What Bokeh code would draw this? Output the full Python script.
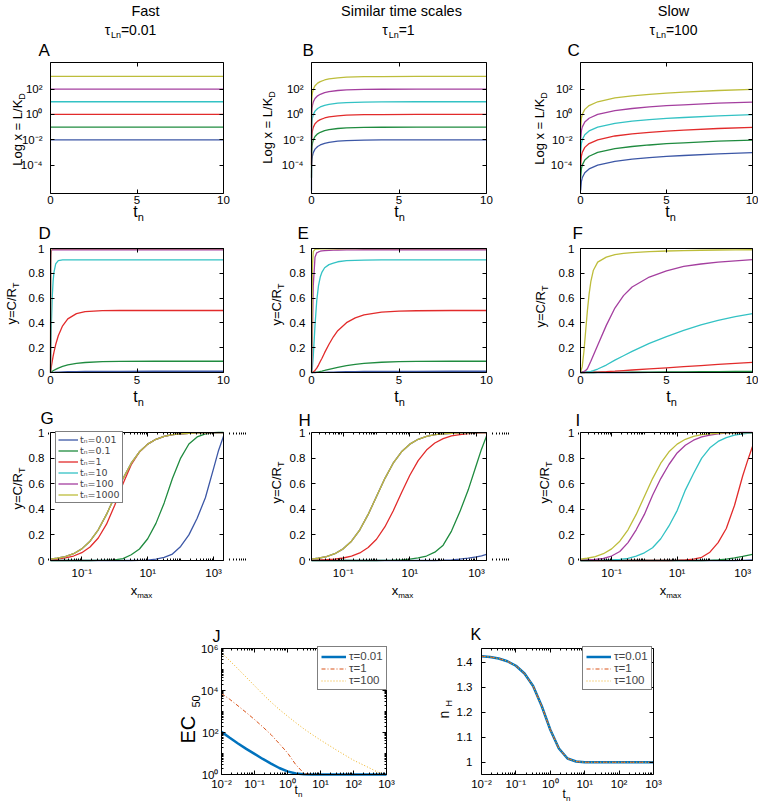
import numpy as np
from bokeh.plotting import figure
from bokeh.models import (Range1d, FixedTicker, LinearAxis, LogAxis, Label,
                          Legend, LegendItem, CustomJSTickFormatter)
from bokeh.layouts import row, column
from bokeh.embed import file_html
from bokeh.resources import INLINE

FONT = "Liberation Sans"

# ------------------------------------------------------------------ data
SERIES_COLORS = ["#3c57a6", "#1f8b3f", "#e22b2b", "#33c2c4", "#a43f9f", "#bdbd3b"]
SERIES_LABELS = ["t\u2099=0.01", "t\u2099=0.1", "t\u2099=1", "t\u2099=10", "t\u2099=100", "t\u2099=1000"]
TAU_LABELS = ["\u03c4=0.01", "\u03c4=1", "\u03c4=100"]
TAU_COLORS = ["#0072bd", "#d95319", "#edb120"]

# Panel A (fast): x stays at its level
A_T = [0, 10]
A_LEVELS = [0.01, 0.1, 1, 10, 100, 1000]

# Panel B (tau=1): log10 x vs t
B_T = [0.0001, 0.001, 0.01, 0.03, 0.06, 0.1, 0.2, 0.35, 0.5, 0.75, 1, 1.5, 2, 3, 4, 6, 10]
B_LOGX = [
    [-6.0, -5.0, -4.0, -3.53, -3.24, -3.02, -2.74, -2.53, -2.41, -2.28, -2.20, -2.11, -2.06, -2.02, -2.01, -2.00, -2.00],
    [-5.0, -4.0, -3.0, -2.53, -2.24, -2.02, -1.74, -1.53, -1.41, -1.28, -1.20, -1.11, -1.06, -1.02, -1.01, -1.00, -1.00],
    [-4.0, -3.0, -2.0, -1.53, -1.24, -1.02, -0.74, -0.53, -0.41, -0.28, -0.20, -0.11, -0.06, -0.02, -0.01, 0.00, 0.00],
    [-3.0, -2.0, -1.0, -0.53, -0.24, -0.02, 0.26, 0.47, 0.59, 0.72, 0.80, 0.89, 0.94, 0.98, 0.99, 1.00, 1.00],
    [-2.0, -1.0, 0.0, 0.47, 0.76, 0.98, 1.26, 1.47, 1.59, 1.72, 1.80, 1.89, 1.94, 1.98, 1.99, 2.00, 2.00],
    [-1.0, 0.0, 1.0, 1.47, 1.76, 1.98, 2.26, 2.47, 2.59, 2.72, 2.80, 2.89, 2.94, 2.98, 2.99, 3.00, 3.00],
]

# Panel C (tau=100): log10 x vs t
C_T = [0.01, 0.05, 0.1, 0.25, 0.5, 1, 2, 3, 4, 5, 6, 8, 10]
C_LOGX = [
    [-6.0, -5.3, -5.0, -4.6, -4.3, -4.0, -3.7, -3.53, -3.41, -3.31, -3.24, -3.11, -3.02],
    [-5.0, -4.3, -4.0, -3.6, -3.3, -3.0, -2.7, -2.53, -2.41, -2.31, -2.24, -2.11, -2.02],
    [-4.0, -3.3, -3.0, -2.6, -2.3, -2.0, -1.7, -1.53, -1.41, -1.31, -1.24, -1.11, -1.02],
    [-3.0, -2.3, -2.0, -1.6, -1.3, -1.0, -0.7, -0.53, -0.41, -0.31, -0.24, -0.11, -0.02],
    [-2.0, -1.3, -1.0, -0.6, -0.3, 0.0, 0.3, 0.47, 0.59, 0.69, 0.76, 0.89, 0.98],
    [-1.0, -0.3, 0.0, 0.4, 0.7, 1.0, 1.3, 1.47, 1.59, 1.69, 1.76, 1.89, 1.98],
]

# Panel D (fast): y vs t
D_T = [0, 0.01, 0.02, 0.03, 0.05, 0.1, 0.15, 0.2, 0.3, 0.45, 0.7, 1, 1.5, 2, 3, 4, 6, 10]
D_Y = [
    [0, 0.0001, 0.0002, 0.0003, 0.0005, 0.00095, 0.0014, 0.0018, 0.0026, 0.0036, 0.0051, 0.0063, 0.0077, 0.0086, 0.0094, 0.0097, 0.0099, 0.0099],
    [0, 0.001, 0.002, 0.003, 0.0049, 0.0095, 0.0138, 0.018, 0.0256, 0.0355, 0.0488, 0.0606, 0.0735, 0.0808, 0.0875, 0.0898, 0.0908, 0.0909],
    [0, 0.01, 0.0198, 0.0291, 0.0476, 0.0906, 0.1296, 0.1648, 0.2256, 0.2967, 0.3767, 0.4323, 0.4751, 0.4908, 0.4988, 0.4998, 0.5, 0.5],
    [0, 0.0947, 0.1795, 0.2555, 0.3846, 0.6064, 0.7345, 0.8083, 0.8755, 0.9026, 0.9086, 0.909, 0.909, 0.909, 0.909, 0.909, 0.909, 0.909],
    [0, 0.63, 0.859, 0.942, 0.984, 0.99, 0.99, 0.99, 0.99, 0.99, 0.99, 0.99, 0.99, 0.99, 0.99, 0.99, 0.99, 0.99],
    [0, 0.95, 0.995, 0.998, 0.999, 0.999, 0.999, 0.999, 0.999, 0.999, 0.999, 0.999, 0.999, 0.999, 0.999, 0.999, 0.999, 0.999],
]

# Panel E (tau=1): y vs t
E_T = [0, 0.02, 0.05, 0.1, 0.2, 0.3, 0.4, 0.5, 0.6, 0.75, 1, 1.25, 1.5, 2, 2.5, 3, 4, 5, 6, 8, 10]
E_Y = [
    [0, 0, 0, 0, 0.0002, 0.0004, 0.0006, 0.0009, 0.0012, 0.0017, 0.0026, 0.0035, 0.0044, 0.0059, 0.0071, 0.0079, 0.0090, 0.0095, 0.0097, 0.0099, 0.0099],
    [0, 0, 0.0001, 0.0005, 0.0017, 0.0036, 0.0059, 0.0086, 0.0114, 0.0165, 0.0251, 0.0336, 0.0415, 0.0553, 0.0658, 0.0733, 0.0828, 0.0872, 0.0893, 0.0906, 0.0909],
    [0, 0.0002, 0.0012, 0.0045, 0.017, 0.035, 0.06, 0.089, 0.115, 0.16, 0.228, 0.288, 0.337, 0.402, 0.441, 0.465, 0.487, 0.495, 0.498, 0.4998, 0.5],
    [0, 0.01, 0.04, 0.13, 0.38, 0.58, 0.70, 0.77, 0.81, 0.845, 0.87, 0.882, 0.893, 0.902, 0.905, 0.907, 0.909, 0.909, 0.909, 0.909, 0.909],
    [0, 0.05, 0.30, 0.70, 0.93, 0.965, 0.972, 0.978, 0.981, 0.983, 0.985, 0.987, 0.988, 0.989, 0.989, 0.99, 0.99, 0.99, 0.99, 0.99, 0.99],
    [0, 0.25, 0.85, 0.975, 0.993, 0.995, 0.996, 0.997, 0.997, 0.998, 0.998, 0.998, 0.998, 0.999, 0.999, 0.999, 0.999, 0.999, 0.999, 0.999, 0.999],
]

# Panel F (tau=100): y vs t
F_T = [0, 0.1, 0.2, 0.3, 0.4, 0.5, 0.6, 0.75, 1, 1.5, 2, 2.5, 3, 4, 5, 6, 7, 8, 9, 10]
F_Y = [
    [0, 0, 0, 0, 0, 0, 0, 0, 0, 0.0001, 0.0001, 0.0002, 0.0002, 0.0003, 0.0004, 0.0005, 0.0006, 0.0007, 0.0008, 0.0009],
    [0, 0, 0, 0, 0.0001, 0.0001, 0.0002, 0.0002, 0.0004, 0.0008, 0.0012, 0.0017, 0.0022, 0.0032, 0.0042, 0.0052, 0.0062, 0.0072, 0.0082, 0.0091],
    [0, 0, 0.0002, 0.0004, 0.0007, 0.001, 0.0014, 0.002, 0.0037, 0.007, 0.011, 0.0155, 0.02, 0.029, 0.038, 0.047, 0.056, 0.065, 0.074, 0.082],
    [0, 0, 0.001, 0.002, 0.004, 0.006, 0.009, 0.015, 0.028, 0.06, 0.10, 0.135, 0.17, 0.235, 0.29, 0.34, 0.385, 0.42, 0.45, 0.475],
    [0, 0.002, 0.008, 0.016, 0.03, 0.06, 0.09, 0.14, 0.22, 0.38, 0.52, 0.62, 0.69, 0.77, 0.82, 0.855, 0.875, 0.89, 0.90, 0.91],
    [0, 0.047, 0.171, 0.335, 0.497, 0.632, 0.732, 0.825, 0.89, 0.93, 0.95, 0.96, 0.966, 0.975, 0.98, 0.983, 0.986, 0.988, 0.989, 0.99],
]

# Panels G, H, I: y vs log10 x_max
GHI_LOGX = [-1.95, -1.75, -1.5, -1.25, -1.0, -0.75, -0.5, -0.25, 0, 0.25, 0.5, 0.75,
            1.0, 1.25, 1.5, 1.75, 2.0, 2.25, 2.5, 2.75, 3.0, 3.15, 3.3]
EQ_Y = [0.011, 0.0175, 0.031, 0.053, 0.091, 0.151, 0.240, 0.360, 0.500, 0.640, 0.760, 0.849,
        0.909, 0.947, 0.969, 0.983, 0.990, 0.994, 0.997, 0.998, 0.999, 0.9993, 0.9995]
G_Y = [
    [0, 0, 0, 0, 0, 0, 0, 0, 0, 0, 0, 0.001, 0.003, 0.01, 0.025, 0.05, 0.11, 0.2, 0.33, 0.49, 0.72, 0.86, 0.97],
    [0, 0, 0, 0, 0, 0, 0.0005, 0.002, 0.005, 0.015, 0.045, 0.09, 0.17, 0.29, 0.45, 0.64, 0.80, 0.91, 0.965, 0.99, 0.998, 1.0, 1.0],
    [0.007, 0.011, 0.020, 0.035, 0.061, 0.105, 0.176, 0.284, 0.432, 0.600, 0.748, 0.848, 0.909, 0.947, 0.969, 0.983, 0.990, 0.994, 0.997, 0.998, 0.999, 0.9993, 0.9995],
    EQ_Y, EQ_Y, EQ_Y,
]
H_Y = [
    [0, 0, 0, 0, 0, 0, 0, 0, 0, 0, 0, 0, 0, 0, 0, 0, 0.002, 0.005, 0.01, 0.018, 0.028, 0.036, 0.047],
    [0, 0, 0, 0, 0, 0, 0, 0, 0, 0.001, 0.002, 0.005, 0.01, 0.02, 0.035, 0.065, 0.12, 0.23, 0.38, 0.55, 0.75, 0.87, 0.97],
    [0.0022, 0.0035, 0.0063, 0.011, 0.0196, 0.034, 0.059, 0.101, 0.166, 0.262, 0.387, 0.529, 0.666, 0.78, 0.863, 0.918, 0.952, 0.973, 0.984, 0.991, 0.995, 0.9965, 0.9975],
    EQ_Y, EQ_Y, EQ_Y,
]
I_Y = [
    [0, 0, 0, 0, 0, 0, 0, 0, 0, 0, 0, 0, 0, 0, 0, 0, 0, 0, 0, 0, 0.001, 0.003, 0.005],
    [0, 0, 0, 0, 0, 0, 0, 0, 0, 0, 0, 0, 0, 0, 0, 0, 0.001, 0.004, 0.01, 0.02, 0.032, 0.04, 0.047],
    [0, 0, 0, 0, 0, 0, 0, 0, 0, 0, 0, 0, 0.001, 0.004, 0.01, 0.025, 0.065, 0.14, 0.25, 0.43, 0.66, 0.78, 0.89],
    [0, 0, 0.001, 0.002, 0.004, 0.008, 0.016, 0.035, 0.06, 0.1, 0.17, 0.27, 0.39, 0.55, 0.68, 0.8, 0.88, 0.93, 0.96, 0.98, 0.99, 0.993, 0.995],
    [0.003, 0.005, 0.009, 0.017, 0.035, 0.07, 0.14, 0.24, 0.36, 0.51, 0.64, 0.75, 0.84, 0.9, 0.94, 0.965, 0.98, 0.99, 0.995, 0.998, 1.0, 1.0, 1.0],
    EQ_Y,
]

# Panel J: log10 EC50 vs log10 t_n
J_LOGT = [-2, -1.75, -1.5, -1.25, -1, -0.75, -0.5, -0.25, 0, 0.25, 0.5, 0.75, 1, 1.5, 2, 2.5, 2.75, 3]
J_LOGEC = [
    [2.03, 1.75, 1.48, 1.22, 0.98, 0.74, 0.52, 0.31, 0.15, 0.05, 0.01, 0.0, 0.0, 0.0, 0.0, 0.0, 0.0, 0.0],
    [3.86, 3.58, 3.27, 2.95, 2.62, 2.27, 1.9, 1.47, 1.03, 0.47, 0.05, 0.0, 0.0, 0.0, 0.0, 0.0, 0.0, 0.0],
    [5.8, 5.42, 5.03, 4.63, 4.23, 3.83, 3.45, 3.1, 2.78, 2.47, 2.17, 1.9, 1.64, 1.15, 0.68, 0.3, 0.1, 0.01],
]

# Panel K: n_H vs log10 t_n (the three cases coincide)
K_LOGT = [-2, -1.75, -1.5, -1.25, -1, -0.75, -0.5, -0.25, 0, 0.25, 0.5, 0.75, 1, 1.5, 2, 3]
K_NH = [
    [1.424, 1.421, 1.415, 1.404, 1.386, 1.355, 1.305, 1.225, 1.13, 1.055, 1.015, 1.003, 1.0, 1.0, 1.0, 1.0],
    [1.424, 1.421, 1.415, 1.404, 1.386, 1.355, 1.305, 1.225, 1.13, 1.055, 1.015, 1.003, 1.0, 1.0, 1.0, 1.0],
    [1.424, 1.421, 1.415, 1.404, 1.386, 1.355, 1.305, 1.225, 1.13, 1.055, 1.015, 1.003, 1.0, 1.0, 1.0, 1.0],
]

# ------------------------------------------------------------------ helpers
SUP_JS = """
const sup = {'-':'\u207b','0':'\u2070','1':'\u00b9','2':'\u00b2','3':'\u00b3','4':'\u2074',
             '5':'\u2075','6':'\u2076','7':'\u2077','8':'\u2078','9':'\u2079'};
const e = Math.round(Math.log10(tick));
return '10' + String(e).split('').map(c => sup[c]).join('');
"""
DEC_JS = """
if (Math.abs(tick) < 1e-9) return '0';
if (Math.abs(tick - Math.round(tick)) < 1e-9) return String(Math.round(tick));
return tick.toFixed(1);
"""
BLANK_JS = "return '';"

CW = {' ': .278, '.': .278, '/': .278, '=': .584, 'C': .722, 'D': .722, 'E': .667, 'H': .722,
      'K': .667, 'L': .556, 'R': .722, 'T': .611, 'a': .556, 'g': .556, 'm': .833, 'n': .556,
      'o': .556, 't': .278, 'x': .5, 'y': .5, '\u03c4': .45}
BASE_FIX = 0.27   # Bokeh draws 'alphabetic' labels about this many em lower


def tw(s, size):
    return sum(CW.get(c, 0.556) for c in s) * size


def log_minor(lo, hi, skip):
    out = [m * 10.0 ** e for e in range(lo, hi + 1) for m in range(1, 10)]
    return [v for v in out if all(abs(v / s - 1) > 1e-6 for s in skip)]


def style(ax, size, standoff):
    ax.major_tick_in = 4
    ax.major_tick_out = 0
    ax.minor_tick_in = 2
    ax.minor_tick_out = 0
    ax.axis_line_color = "black"
    ax.axis_line_width = 1
    ax.major_tick_line_color = "black"
    ax.minor_tick_line_color = "black"
    ax.major_label_text_font = FONT
    ax.major_label_text_font_size = size
    ax.major_label_text_color = "black"
    ax.major_label_standoff = standoff


def extend(d0, d1, lo_px, box_px, hi_px, log):
    a, b = (np.log10(d0), np.log10(d1)) if log else (d0, d1)
    s = (b - a) / box_px
    lo, hi = a - lo_px * s, b + hi_px * s
    return (10 ** lo, 10 ** hi) if log else (lo, hi)


def panel(canvas, box, dx, dy, xtype, ytype, xt, yt, xfmt, yfmt, xst, yst, size="11.5px"):
    """canvas/box in page pixels (x0, y0, x1, y1); dx/dy the data limits of the box."""
    bx0, by0, bx1, by1 = canvas
    fx0, fy0, fx1, fy1 = box
    xr = extend(dx[0], dx[1], fx0 - bx0, fx1 - fx0, bx1 - fx1, xtype == "log")
    yr = extend(dy[0], dy[1], by1 - fy1, fy1 - fy0, fy0 - by0, ytype == "log")
    p = figure(width=bx1 - bx0, height=by1 - by0, x_axis_type=xtype, y_axis_type=ytype,
               x_axis_location=None, y_axis_location=None,
               x_range=Range1d(*xr), y_range=Range1d(*yr), output_backend="svg",
               toolbar_location=None, min_border=0)
    p.grid.visible = False
    p.outline_line_color = None
    p.background_fill_color = "white"
    p.border_fill_color = "white"
    AX = LogAxis if xtype == "log" else LinearAxis
    AY = LogAxis if ytype == "log" else LinearAxis
    specs = [(AX, dy[0], dx, xt, xfmt, xst, size, "below"),
             (AX, dy[1], dx, xt, BLANK_JS, 0, "0px", "above"),
             (AY, dx[0], dy, yt, yfmt, yst, size, "left"),
             (AY, dx[1], dy, yt, BLANK_JS, 0, "0px", "right")]
    for cls, loc, bnd, tk, fmt, st, sz, side in specs:
        ax = cls(fixed_location=loc, bounds=bnd,
                 ticker=FixedTicker(ticks=tk[0], minor_ticks=tk[1]))
        if fmt is not None:
            ax.formatter = CustomJSTickFormatter(code=fmt)
        style(ax, sz, st)
        p.add_layout(ax, side)
    p._org = (bx0, by1)
    return p


def put(p, X, Y, text, size, align="left", angle=0.0):
    """(X, Y): wanted baseline anchor in page pixels."""
    ox, oy = p._org
    if angle == 0.0:
        Y = Y - BASE_FIX * size
    else:
        X = X - BASE_FIX * size
    p.add_layout(Label(x=X - ox, y=oy - Y, x_units="screen", y_units="screen", text=text,
                       text_font=FONT, text_font_size=f"{size}px", text_align=align,
                       text_baseline="alphabetic", angle=angle, text_color="black"))


def sub_h(p, Xc, Yb, parts):
    total = sum(tw(t, s) for t, s, d in parts)
    x = Xc - total / 2
    for t, s, d in parts:
        put(p, x, Yb + d, t, s)
        x += tw(t, s)


def sub_v(p, Xb, Yc, parts):
    total = sum(tw(t, s) for t, s, d in parts)
    y = Yc + total / 2
    for t, s, d in parts:
        put(p, Xb + d, y, t, s, angle=np.pi / 2)
        y -= tw(t, s)


# ------------------------------------------------------------------ geometry (page px)
COLS = [(0, 258, 50, 223), (258, 530, 311, 486), (530, 758, 580, 752)]
ROWS = [(0, 222, 62, 193), (222, 407, 248, 372), (407, 600, 432, 560)]


def cell(i, r):
    bx0, bx1, fx0, fx1 = COLS[i]
    by0, by1, fy0, fy1 = ROWS[r]
    return (bx0, by0, bx1, by1), (fx0, fy0, fx1, fy1)


T_TICKS = ([0, 5, 10], [])
Y01_TICKS = ([0, 0.2, 0.4, 0.6, 0.8, 1.0], [])
LOGX_TICKS = ([1e-4, 1e-2, 1, 1e2], [])
GHI_TICKS = ([0.1, 10, 1000], log_minor(-2, 3, [0.1, 10, 1000]))
DEC_TICKS = ([1e-2, 1e-1, 1, 10, 100, 1000], log_minor(-2, 2, [1e-2, 1e-1, 1, 10, 100, 1000]))
EC_TICKS = ([1, 1e2, 1e4, 1e6], log_minor(0, 5, [1, 1e2, 1e4, 1e6]))
NH_TICKS = ([1.0, 1.1, 1.2, 1.3, 1.4], [])

# ---- row 1
titles = ["Fast", "Similar time scales", "Slow"]
title_x = [145, 401, 673]
tau_txt = ["=0.01", "=1", "=100"]
tau_x = [130, 398, 673]
letters1 = [("A", 38), ("B", 302), ("C", 567)]
ylab1 = [(21, 129), (271, 127), (543, 128)]
xlab1 = [138, 399, 670]
row1 = []
for i in range(3):
    cv, bx = cell(i, 0)
    p = panel(cv, bx, (0, 10), (10 ** -6.24, 10 ** 4.1), "linear", "log",
              T_TICKS, LOGX_TICKS, None, SUP_JS, 2, 8)
    if i == 0:
        for lvl, c in zip(A_LEVELS, SERIES_COLORS):
            p.line(A_T, [lvl, lvl], color=c, line_width=1.3)
    else:
        tt, ss = (B_T, B_LOGX) if i == 1 else (C_T, C_LOGX)
        for s, c in zip(ss, SERIES_COLORS):
            p.line(tt, [10 ** v for v in s], color=c, line_width=1.3)
    put(p, title_x[i], 14, titles[i], 14.5, align="center")
    sub_h(p, tau_x[i], 33, [("\u03c4", 14, 0), ("Ln", 9, 4), (tau_txt[i], 14, 0)])
    put(p, letters1[i][1], 55, letters1[i][0], 17)
    sub_v(p, ylab1[i][0], ylab1[i][1], [("Log x = L/K", 13, 0), ("D", 9, 3)])
    sub_h(p, xlab1[i], 215, [("t", 16, 0), ("n", 11, 4)])
    row1.append(p)

# ---- row 2
letters2 = [("D", 38), ("E", 297), ("F", 572)]
ylab2 = [(15, 303), (280, 304), (544, 306)]
xlab2 = [138, 399, 671]
row2 = []
for i, (tt, ss) in enumerate([(D_T, D_Y), (E_T, E_Y), (F_T, F_Y)]):
    cv, bx = cell(i, 1)
    p = panel(cv, bx, (0, 10), (0, 1), "linear", "linear",
              T_TICKS, Y01_TICKS, None, DEC_JS, 3, 6)
    for s, c in zip(ss, SERIES_COLORS):
        p.line(tt, s, color=c, line_width=1.3)
    put(p, letters2[i][1], 238, letters2[i][0], 17)
    sub_v(p, ylab2[i][0], ylab2[i][1], [("y=C/R", 13, 0), ("T", 9, 3)])
    sub_h(p, xlab2[i], 400, [("t", 16, 0), ("n", 11, 4)])
    row2.append(p)

# ---- row 3
letters3 = [("G", 40, 423), ("H", 298, 425), ("I", 575, 425)]
ylab3 = [(21, 488), (280, 482), (548, 482)]
xlab3 = [141, 402, 670]
row3 = []
GHI_X = [10 ** v for v in GHI_LOGX]
for i, ss in enumerate([G_Y, H_Y, I_Y]):
    cv, bx = cell(i, 2)
    p = panel(cv, bx, (10 ** -1.95, 10 ** 3.3), (0, 1), "log", "linear",
              GHI_TICKS, Y01_TICKS, SUP_JS, DEC_JS, 6, 6)
    rends = [p.line(GHI_X, s, color=c, line_width=1.3) for s, c in zip(ss, SERIES_COLORS)]
    if i == 0:
        leg = Legend(items=[LegendItem(label=l, renderers=[r]) for l, r in zip(SERIES_LABELS, rends)],
                     location=(55, 97), label_text_font="DejaVu Sans", label_text_font_size="9.5px",
                     label_text_line_height=1.0,
                     glyph_width=20, glyph_height=9, label_height=9, label_standoff=2,
                     padding=2, spacing=0, margin=0, border_line_color="black",
                     border_line_width=1, background_fill_color="white", background_fill_alpha=1)
        p.add_layout(leg)
    put(p, letters3[i][1], letters3[i][2], letters3[i][0], 17)
    sub_v(p, ylab3[i][0], ylab3[i][1], [("y=C/R", 13, 0), ("T", 9, 3)])
    sub_h(p, xlab3[i], 594, [("x", 13, 0), ("max", 8, 3)])
    row3.append(p)

# ---- row 4
dash = ["solid", "4 2 1 2", "1 2"]
widths = [2.5, 1, 1]
pJ = panel((0, 600, 430, 803), (221, 648, 386, 774), (1e-2, 1e3), (1, 1e6), "log", "log",
           DEC_TICKS, EC_TICKS, SUP_JS, SUP_JS, 3, 3)
JX = [10 ** v for v in J_LOGT]
rj = [pJ.line(JX, [10 ** v for v in s], color=c, line_dash=d, line_width=w)
      for s, c, d, w in zip(J_LOGEC, TAU_COLORS, dash, widths)]
pK = panel((430, 600, 758, 803), (481, 648, 653, 774), (1e-2, 1e3), (0.951, 1.455), "log", "linear",
           DEC_TICKS, NH_TICKS, SUP_JS, DEC_JS, 3, 9)
KX = [10 ** v for v in K_LOGT]
rk = [pK.line(KX, s, color=c, line_dash=d, line_width=w)
      for s, c, d, w in zip(K_NH, TAU_COLORS, dash, widths)]
for p, rs, loc in ((pJ, rj, (317, 113)), (pK, rk, (152, 113))):
    leg = Legend(items=[LegendItem(label=l, renderers=[r]) for l, r in zip(TAU_LABELS, rs)],
                 location=loc, label_text_font=FONT, label_text_font_size="11.5px",
                 label_text_line_height=1.0,
                 glyph_width=25, glyph_height=9, label_height=9, label_standoff=3,
                 padding=3, spacing=0, margin=0, border_line_color="black",
                 border_line_width=1.5, background_fill_color="white", background_fill_alpha=1)
    p.add_layout(leg)

put(pJ, 212, 640, "J", 16)
put(pK, 470, 638, "K", 16)
put(pJ, 193, 743, "EC", 20, angle=np.pi / 2)
put(pJ, 198, 707, "50", 11, angle=np.pi / 2)
put(pK, 447, 718, "n", 14, angle=np.pi / 2)
put(pK, 451, 706, "H", 9, angle=np.pi / 2)
sub_h(pJ, 298, 793, [("t", 12, 0), ("n", 8, 3)])
sub_h(pK, 566, 797, [("t", 12, 0), ("n", 8, 3)])

layout = column(row(*row1), row(*row2), row(*row3), row(pJ, pK))
open("out.html", "w").write(file_html(layout, INLINE, title="Ligand and receptor dynamics"))
